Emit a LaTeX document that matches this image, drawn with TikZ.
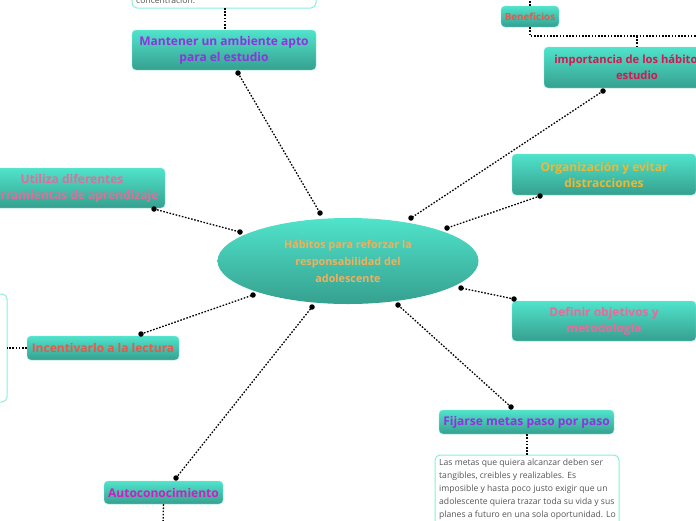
\documentclass[tikz,border=0pt]{standalone}
\usepackage{fontspec}
\setmainfont{Open Sans}
\usetikzlibrary{shapes.geometric}
\definecolor{tealtop}{HTML}{50E3CB}
\definecolor{tealbot}{HTML}{36A08F}
\definecolor{notebd}{HTML}{88EEDD}
\definecolor{notetx}{HTML}{555555}
\definecolor{cpurple}{HTML}{9330E0}
\definecolor{cred}{HTML}{E8574A}
\definecolor{ccrimson}{HTML}{D6164F}
\definecolor{cgold}{HTML}{F2B630}
\definecolor{cpink}{HTML}{E96A9A}
\definecolor{cmagenta}{HTML}{D01CC0}
\definecolor{corange}{HTML}{F2B05A}
\tikzset{
  topic/.style={rectangle, rounded corners=4pt, top color=tealtop, bottom color=tealbot,
    draw=tealtop!70!white, line width=0.4pt, align=center, inner sep=0pt,
    font=\bfseries\fontsize{12}{16}\selectfont},
  central/.style={ellipse, top color=tealtop, bottom color=tealbot, draw=none,
    align=center, inner sep=0pt, font=\bfseries\fontsize{10.8}{17}\selectfont},
  notebox/.style={rounded corners=5pt, draw=notebd, fill=white, line width=1pt},
  notetext/.style={text=notetx, font=\fontsize{8.6}{13}\selectfont, align=left, inner sep=0pt, anchor=north west},
  conn/.style={draw=black, line width=1.3pt, dash pattern=on 1.6pt off 1.6pt},
  jdot/.style={circle, fill=black, inner sep=0pt, minimum size=5.5pt},
}
\begin{document}
\begin{tikzpicture}[x=1pt,y=-1pt]
\useasboundingbox (0,0) rectangle (696,520);
\begin{scope}
\clip (0,0) rectangle (696,520);
% note boxes
\draw[notebox] (132,-40) rectangle (316,8);
\node[notetext, anchor=base west] (n1t) at (136,3) {concentración.};
\draw[notebox] (435,455) rectangle (619,560);
\node[notetext] (n2t) at (439,458.5) {Las metas que quiera alcanzar deben ser\\tangibles, creibles y realizables. Es\\imposible y hasta poco justo exigir que un\\adolescente quiera trazar toda su vida y sus\\planes a futuro en una sola oportunidad. Lo};
\draw[notebox] (-180,294) rectangle (7,402);

% central
\node[central, minimum width=261pt, minimum height=86pt, text=corange] (hab) at (348,261) {Hábitos para reforzar la\\responsabilidad del\\adolescente};

% topics
\node[topic, minimum width=184pt, minimum height=40pt, text=cpurple] (mant) at (224,50) {Mantener un ambiente apto\\para el estudio};
\node[topic, minimum width=58pt, minimum height=21pt, text=cred, font=\bfseries\fontsize{9.8}{10}\selectfont] (ben) at (530,16.5) {Beneficios};
\node[topic, minimum width=186pt, minimum height=41pt, text=ccrimson, font=\bfseries\fontsize{11.2}{16}\selectfont] (imp) at (637,67.5) {importancia de los hábitos de\\estudio};
\node[topic, minimum width=184pt, minimum height=41pt, text=cgold] (org) at (604,174.5) {Organización y evitar\\distracciones};
\node[topic, minimum width=184pt, minimum height=40pt, text=cpink] (def) at (604,321) {Definir objetivos y\\metodología};
\node[topic, minimum width=175pt, minimum height=24pt, text=cpurple] (fij) at (526.5,422) {Fijarse metas paso por paso};
\node[topic, minimum width=119pt, minimum height=23pt, text=cmagenta] (auto) at (163.5,492.5) {Autoconocimiento};
\node[topic, minimum width=152pt, minimum height=24pt, text=cred] (inc) at (103,348) {Incentivarlo a la lectura};
\node[topic, minimum width=186pt, minimum height=40pt, text=cpink] (uti) at (72,188) {Utiliza diferentes\\herramientas de aprendizaje};

% connector end points
\coordinate (a1) at (238,73);  \coordinate (b1) at (320,213);
\coordinate (a2) at (603,91);  \coordinate (b2) at (411,218);
\coordinate (a3) at (540,196); \coordinate (b3) at (447,228);
\coordinate (a4) at (514,299); \coordinate (b4) at (461,288);
\coordinate (a5) at (511,407); \coordinate (b5) at (398,305);
\coordinate (a6) at (176,478); \coordinate (b6) at (312,307);
\coordinate (a7) at (141,334); \coordinate (b7) at (253,295);
\coordinate (a8) at (154,209); \coordinate (b8) at (240,232);
\foreach \i in {1,...,8}{
  \draw[conn] (a\i) -- (b\i);
  \node[jdot] at (a\i) {};
  \node[jdot] at (b\i) {};
}

% tree lines
\coordinate (n1b) at (225,8);
\draw[conn] (n1b) -- (mant.north -| n1b);
\coordinate (bentop) at (530,-5);
\draw[conn] (ben.north) -- (bentop);
\coordinate (bj) at (530,36);
\coordinate (bjr) at (700,36);
\coordinate (bji) at (637,36);
\draw[conn] (ben.south) -- (bj) -- (bjr);
\draw[conn] (bji) -- (imp.north);
\coordinate (fn) at (527,455);
\draw[conn] (fij.south -| fn) -- (fn);
\coordinate (ab) at (163,525);
\draw[conn] (auto.south) -- (ab);
\coordinate (ln) at (7,348);
\draw[conn] (inc.west) -- (ln);
\end{scope}
\end{tikzpicture}
\end{document}
